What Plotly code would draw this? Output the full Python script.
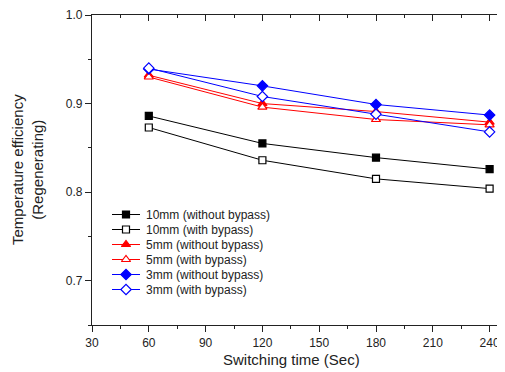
import plotly.graph_objects as go

x_time = [60, 120, 180, 240]
mm10_without = [0.886, 0.855, 0.839, 0.826]
mm10_with = [0.873, 0.836, 0.815, 0.804]
mm5_without = [0.932, 0.900, 0.891, 0.879]
mm5_with = [0.930, 0.896, 0.882, 0.876]
mm3_without = [0.939, 0.920, 0.899, 0.887]
mm3_with = [0.940, 0.908, 0.888, 0.868]

series = [
    ("10mm (without bypass)", mm10_without, "black", "square", "black", 7),
    ("10mm (with bypass)", mm10_with, "black", "square", "white", 7),
    ("5mm (without bypass)", mm5_without, "red", "triangle-up", "red", 8),
    ("5mm (with bypass)", mm5_with, "red", "triangle-up", "white", 8),
    ("3mm (without bypass)", mm3_without, "blue", "diamond", "blue", 8),
    ("3mm (with bypass)", mm3_with, "blue", "diamond", "white", 8),
]

# page is rendered with an 8px body margin; lay out in page pixels
OFF = 8
W, H = 505, 372
P_LEFT, P_RIGHT, P_TOP, P_BOTTOM = 92, 507, 15, 325
ML, MT = P_LEFT - OFF, P_TOP - OFF
MR = W - (P_RIGHT - OFF)
MB = H - (P_BOTTOM - OFF)
PW, PH = P_RIGHT - P_LEFT, P_BOTTOM - P_TOP

fig = go.Figure()
for name, ys, col, sym, fill, sz in series:
    fig.add_trace(go.Scatter(
        x=x_time, y=ys, name=name, mode="lines+markers",
        line=dict(color=col, width=1),
        marker=dict(symbol=sym, size=sz, color=fill, line=dict(color=col, width=1.2)),
        showlegend=False,
    ))

# manual legend on an inset pixel-unit axis (layout only)
leg_x0, leg_x1, leg_txt = 112, 140, 144
leg_top, leg_step = 214.5, 15
annotations = []
for i, (name, ys, col, sym, fill, sz) in enumerate(series):
    yy = leg_top + i * leg_step
    fig.add_trace(go.Scatter(x=[leg_x0, leg_x1], y=[yy, yy], mode="lines",
                             line=dict(color=col, width=1), xaxis="x3", yaxis="y3",
                             showlegend=False, hoverinfo="skip"))
    fig.add_trace(go.Scatter(x=[(leg_x0 + leg_x1) / 2], y=[yy], mode="markers",
                             marker=dict(symbol=sym, size=sz, color=fill, line=dict(color=col, width=1.2)),
                             xaxis="x3", yaxis="y3", showlegend=False, hoverinfo="skip"))
    annotations.append(dict(x=leg_txt, y=yy, xref="x3", yref="y3", text=name, showarrow=False,
                            xanchor="left", yanchor="middle", font=dict(size=12, color="#222")))

annotations.append(dict(x=(291 - P_LEFT) / PW, y=(P_BOTTOM - 360) / PH, xref="paper", yref="paper",
                        text="Switching time (Sec)", showarrow=False, xanchor="center",
                        yanchor="middle", font=dict(size=15, color="#222")))
annotations.append(dict(x=(27 - P_LEFT) / PW, y=(P_BOTTOM - 170) / PH, xref="paper", yref="paper",
                        text="Temperature efficiency<br>(Regenerating)", showarrow=False,
                        xanchor="center", yanchor="middle", textangle=-90,
                        font=dict(size=15, color="#222")))

font = "Liberation Sans, Arial, sans-serif"
xr = [30, 30 + PW * 30 / 56.8]
yr = [0.65, 1.0]
xt = [30, 60, 90, 120, 150, 180, 210, 240]

fig.update_layout(
    width=W, height=H,
    margin=dict(l=ML, r=MR, t=MT, b=MB),
    paper_bgcolor="white", plot_bgcolor="white",
    font=dict(family=font, size=12, color="#222"),
    showlegend=False,
    annotations=annotations,
    xaxis=dict(range=xr, tickvals=xt, automargin=False,
               ticks="outside", ticklen=6, tickwidth=1, tickcolor="#222",
               minor=dict(dtick=15, tick0=30, ticks="outside", ticklen=3, tickcolor="#222"),
               showline=True, linecolor="#222", linewidth=1.2, mirror=True,
               showgrid=False, zeroline=False),
    xaxis2=dict(range=xr, overlaying="x", side="top", tickvals=xt, automargin=False,
                ticks="inside", ticklen=6, tickcolor="#222", showticklabels=False,
                minor=dict(dtick=15, tick0=30, ticks="inside", ticklen=3, tickcolor="#222"),
                showline=False, showgrid=False, zeroline=False),
    yaxis=dict(range=yr, tickvals=[0.7, 0.8, 0.9, 1.0], ticktext=["0.7", "0.8", "0.9", "1.0"],
               automargin=False,
               ticks="outside", ticklen=6, tickwidth=1, tickcolor="#222",
               minor=dict(dtick=0.05, tick0=0.65, ticks="outside", ticklen=3, tickcolor="#222"),
               showline=True, linecolor="#222", linewidth=1.2, mirror=True,
               showgrid=False, zeroline=False),
    yaxis2=dict(range=yr, overlaying="y", side="right", tickvals=[0.7, 0.8, 0.9, 1.0],
                automargin=False,
                ticks="inside", ticklen=5, tickcolor="#222", showticklabels=False,
                showline=False, showgrid=False, zeroline=False),
    xaxis3=dict(domain=[0, 1], range=[P_LEFT, P_RIGHT], visible=False, overlaying="x", automargin=False),
    yaxis3=dict(domain=[0, 1], range=[P_BOTTOM, P_TOP], visible=False, overlaying="y", automargin=False),
)
fig.add_trace(go.Scatter(x=[None], y=[None], xaxis="x2", yaxis="y2", showlegend=False, hoverinfo="skip"))

fig.write_html("out.html")
